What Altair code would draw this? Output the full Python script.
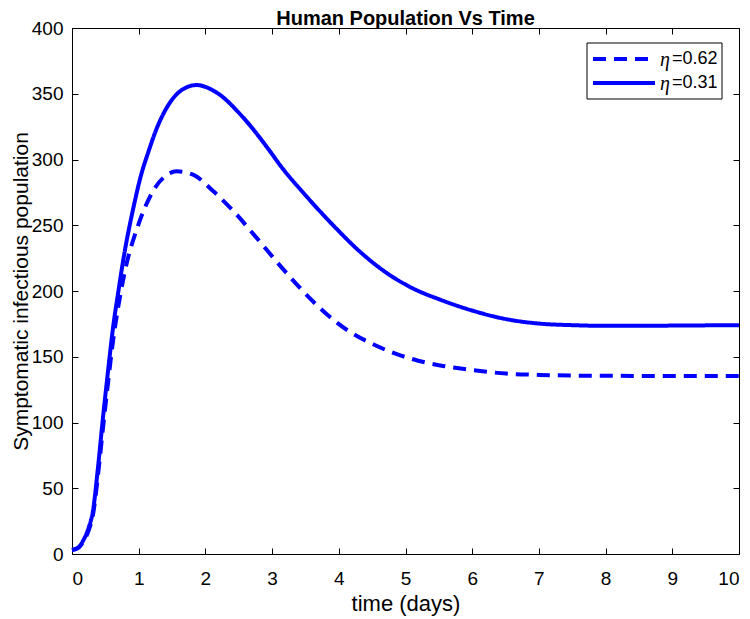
import altair as alt
import pandas as pd

# ---- data ----
labels = ["η=0.62", "η=0.31"]
legend_values = ["=0.62", "=0.31"]

t_062 = [0, 0.1, 0.165, 0.25, 0.315, 0.39, 0.465, 0.54, 0.615, 0.69, 0.815, 0.965,
         1.09, 1.215, 1.415, 1.565, 1.815, 2.115, 2.415, 2.765, 3.165, 3.615, 3.815,
         4.165, 4.515, 4.84, 5.19, 5.565, 6.01, 6.51, 7.01, 7.51, 8.01, 9.0, 10.0]
v_062 = [3, 5, 9, 18, 30, 60, 96, 130, 162, 187, 220, 246,
         263, 276, 288, 291, 288.5, 276, 261, 240.6, 216.6, 192, 182.5,
         169, 159.5, 152.5, 147, 143, 139.8, 137.2, 136.2, 135.7, 135.5, 135.4, 135.4]

t_031 = [0, 0.1, 0.165, 0.25, 0.315, 0.39, 0.465, 0.54, 0.615, 0.69, 0.79, 0.915,
         1.04, 1.14, 1.265, 1.465, 1.665, 1.865, 2.165, 2.565, 2.965, 3.115, 3.515,
         3.915, 4.315, 4.71, 5.11, 5.515, 6.01, 6.51, 7.01, 7.51, 8.01, 8.51, 9.01, 10.0]
v_031 = [3, 5, 10, 20, 33, 66, 104, 139, 172, 198, 230, 262,
         289, 305, 323, 343, 353.5, 356.6, 351, 332, 306.5, 296, 272,
         250, 230, 214, 202, 193.5, 185, 178.6, 175.2, 174, 173.5, 173.5, 173.7, 174]

x_ticks = list(range(0, 11))
y_ticks = list(range(0, 401, 50))

rows = []
for lab, ts, vs in [(labels[0], t_062, v_062), (labels[1], t_031, v_031)]:
    for i, (t, v) in enumerate(zip(ts, vs)):
        rows.append({"t": t, "v": v, "series": lab, "order": i})
df = pd.DataFrame(rows)
leg_df = pd.DataFrame({"series": labels, "value": legend_values, "row": [0, 1]})

FONT = "Liberation Sans"
W, H = 667, 526
BLUE = "#0000ff"
DASH = [13, 8]

xs = alt.Scale(domain=[0, 10], nice=False, zero=False)
ys = alt.Scale(domain=[0, 400], nice=False)

lines = alt.Chart(df).mark_line(
    color=BLUE, strokeWidth=4, interpolate="monotone", strokeCap="butt"
).encode(
    x=alt.X("t:Q", scale=xs,
            axis=alt.Axis(orient="bottom", values=x_ticks, title="time (days)",
                          labelPadding=15, titlePadding=5, offset=-6, tickSize=6,
                          domain=False, grid=False, labelFontSize=19, titleFontSize=22)),
    y=alt.Y("v:Q", scale=ys,
            axis=alt.Axis(orient="left", values=y_ticks,
                          title="Symptomatic infectious population",
                          labelPadding=9, titlePadding=0, offset=-6, tickSize=6,
                          domain=False, grid=False, labelFontSize=19, titleFontSize=21)),
    strokeDash=alt.StrokeDash(
        "series:N",
        scale=alt.Scale(domain=labels, range=[DASH, [1, 0]]),
        legend=None,
    ),
    order="order:Q",
)

frame = alt.Chart(df).mark_line(opacity=0).encode(
    x=alt.X("t:Q", scale=xs,
            axis=alt.Axis(orient="top", values=x_ticks, labels=False, title="",
                          offset=-6, tickSize=6, domain=False, grid=False)),
    y=alt.Y("v:Q", scale=ys,
            axis=alt.Axis(orient="right", values=y_ticks, labels=False, title="",
                          offset=-6, tickSize=6, domain=False, grid=False)),
    detail="series:N",
)

# ---- legend box (top-right, inside the axes) ----
LX0, LX1, LY0, LY1 = 515, 650, 15, 71
ROW_Y = [31, 55]
SYM_X0, SYM_X1 = 521, 583
ETA_X, VAL_X = 588, 600

leg_box = alt.Chart(leg_df).transform_filter("datum.row == 0").mark_rect(
    fill="white", stroke="black", strokeWidth=1
).encode(x=alt.value(LX0), x2=alt.value(LX1), y=alt.value(LY0), y2=alt.value(LY1))

leg_layers = [leg_box]
for r, dash in [(0, DASH), (1, [1, 0])]:
    sub = alt.Chart(leg_df).transform_filter(f"datum.row == {r}")
    leg_layers.append(sub.mark_rule(color=BLUE, strokeWidth=4, strokeDash=dash,
                                    strokeCap="butt").encode(
        x=alt.value(SYM_X0), x2=alt.value(SYM_X1), y=alt.value(ROW_Y[r])))
    leg_layers.append(sub.mark_text(text="η", font="Liberation Serif", fontStyle="italic",
                                    fontSize=20, align="left", baseline="middle",
                                    color="black").encode(
        x=alt.value(ETA_X), y=alt.value(ROW_Y[r] + 1)))
    leg_layers.append(sub.mark_text(font=FONT, fontSize=18, align="left",
                                    baseline="middle", color="black").encode(
        text="value:N", x=alt.value(VAL_X), y=alt.value(ROW_Y[r])))

chart = alt.layer(lines, frame, *leg_layers).resolve_axis(
    x="independent", y="independent"
).properties(
    width=W, height=H,
    title=alt.TitleParams("Human Population Vs Time", fontSize=20, fontWeight="bold",
                          font=FONT, anchor="middle", offset=4, dy=14, color="black"),
    padding={"left": 64, "top": 20, "right": 3, "bottom": 62},
    autosize=alt.AutoSizeParams(type="none"),
).configure_view(
    stroke="black", strokeWidth=1
).configure_axis(
    labelFont=FONT, titleFont=FONT, labelColor="black", titleColor="black",
    tickColor="black", tickWidth=1, titleFontWeight="normal"
)

chart.save("out.html", embed_options={"renderer": "svg", "actions": False})
